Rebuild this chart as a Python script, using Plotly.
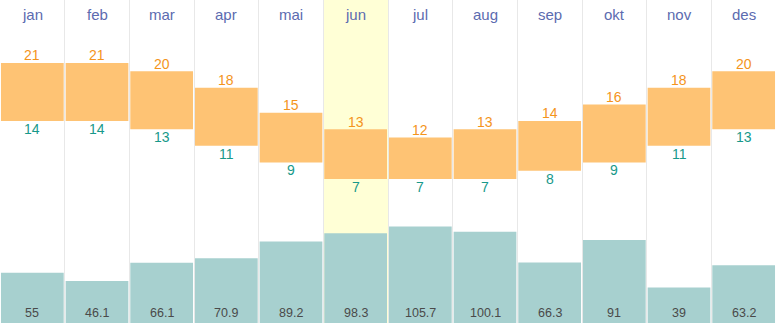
import plotly.graph_objects as go

months = ["jan", "feb", "mar", "apr", "mai", "jun", "jul", "aug", "sep", "okt", "nov", "des"]
t_max = [21, 21, 20, 18, 15, 13, 12, 13, 14, 16, 18, 20]
t_min = [14, 14, 13, 11, 9, 7, 7, 7, 8, 9, 11, 13]
precip = [55, 46.1, 66.1, 70.9, 89.2, 98.3, 105.7, 100.1, 66.3, 91, 39, 63.2]
highlight = "jun"

x = list(range(len(months)))
hi = months.index(highlight)
FONT = "Liberation Sans, Arial"

fig = go.Figure()

# precipitation bars
fig.add_trace(go.Bar(x=x, y=precip, yaxis="y2", width=0.97,
                     marker=dict(color="#a7d0cf", line=dict(width=0)), hoverinfo="skip"))

# temperature floating bars
fig.add_trace(go.Bar(x=x, y=[a - b for a, b in zip(t_max, t_min)], base=t_min, width=0.97,
                     marker=dict(color="#fec374", line=dict(width=0)), hoverinfo="skip"))

for i in x:
    fig.add_annotation(x=i, y=t_max[i], xref="x", yref="y", text=str(t_max[i]), showarrow=False,
                       yanchor="middle", yshift=7.5,
                       font=dict(size=14, color="#f4941c", family=FONT))
    fig.add_annotation(x=i, y=t_min[i], xref="x", yref="y", text=str(t_min[i]), showarrow=False,
                       yanchor="middle", yshift=-8,
                       font=dict(size=14, color="#18998a", family=FONT))
    fig.add_annotation(x=i, y=0, xref="x", yref="y2", text=f"{precip[i]:g}", showarrow=False,
                       yanchor="middle", yshift=10,
                       font=dict(size=12.5, color="#4a4a4a", family=FONT))
    fig.add_annotation(x=i, y=1 - 15 / 323, xref="x", yref="paper", text=months[i],
                       showarrow=False, yanchor="middle",
                       font=dict(size=15, color="#5c6bb0", family=FONT))

fig.add_shape(type="rect", xref="x", yref="paper", x0=hi - 0.5, x1=hi + 0.5, y0=0, y1=1,
              fillcolor="#ffffd6", line=dict(width=0), layer="below")

fig.update_layout(
    width=776, height=323, margin=dict(l=0, r=0, t=0, b=0),
    paper_bgcolor="white", plot_bgcolor="white", showlegend=False, barmode="overlay",
    xaxis=dict(range=[-0.5, 11.5], tickvals=[i - 0.5 for i in range(13)], showticklabels=False,
               showgrid=True, gridcolor="#e8e8e8", gridwidth=1, zeroline=False, ticks="",
               showline=True, linecolor="#e8e8e8", mirror=True),
    yaxis=dict(range=[-10.37, 28.59], showgrid=False, zeroline=False, showticklabels=False),
    yaxis2=dict(range=[0, 354], overlaying="y", showgrid=False, zeroline=False,
                showticklabels=False),
)

fig.write_html("out.html")
